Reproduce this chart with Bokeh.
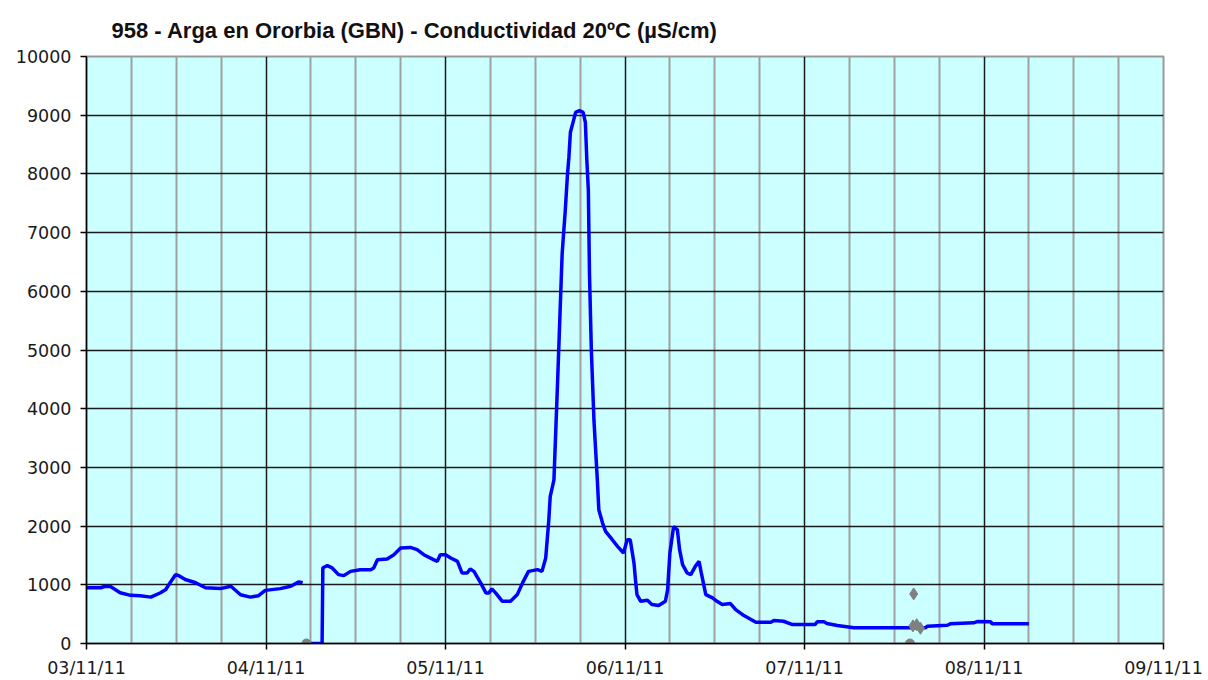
import pandas as pd
from bokeh.plotting import figure
from bokeh.models import FixedTicker, Range1d, DatetimeTickFormatter
from bokeh.embed import file_html
from bokeh.resources import INLINE

# ---------------- data (hours since 03/11/2011 00:00) ----------------
start_date = "2011-11-03 00:00"
title_text = "958 - Arga en Ororbia (GBN) - Conductividad 20ºC (µS/cm)"
day_labels = ["03/11/11", "04/11/11", "05/11/11", "06/11/11", "07/11/11", "08/11/11", "09/11/11"]
y_ticks = [0, 1000, 2000, 3000, 4000, 5000, 6000, 7000, 8000, 9000, 10000]

hours_a = [0.0, 1.9, 2.5, 3.2, 4.5, 5.9, 7.2, 8.6, 9.9, 10.6, 11.2, 11.9, 12.3, 13.2,
           14.6, 15.9, 17.9, 19.3, 20.6, 21.9, 23.0, 23.9, 25.9, 27.3, 28.4, 28.9]
cond_a = [950, 950, 975, 970, 865, 820, 815, 790, 865, 920, 1040, 1170, 1160, 1090,
          1035, 950, 935, 975, 830, 790, 815, 905, 935, 975, 1050, 1035]

hours_b = [30.0, 31.5, 31.6, 32.2, 32.85, 33.7, 34.4, 35.3, 36.6, 38.0,
           38.4, 38.9, 40.2, 41.1, 42.0, 43.3, 44.2, 45.1, 46.4, 46.9,
           47.3, 48.0, 48.7, 49.6, 50.2, 50.9, 51.3, 51.8, 52.7, 53.4,
           53.8, 54.2, 54.7, 55.6, 56.7, 57.6, 58.3, 59.1, 60.3, 60.9,
           61.4, 61.8, 62.0, 62.5, 63.0, 63.5, 63.6, 63.8, 64.0, 64.3,
           64.5, 64.7, 65.0, 65.4, 65.9, 66.4, 66.7, 66.9, 67.1, 67.25,
           67.5, 67.85, 68.3, 68.5, 69.0, 69.4, 70.3, 71.0, 71.8, 72.3,
           72.7, 73.2, 73.4, 73.6, 74.1, 75.0, 75.6, 76.5, 77.4, 77.7,
           78.0, 78.5, 79.0, 79.3, 79.7, 80.3, 80.8, 81.4, 81.9, 82.2,
           82.8, 83.7, 84.3, 85.0, 86.1, 86.8, 87.9, 89.5, 91.5, 91.9,
           93.2, 94.4, 97.4, 97.7, 98.6, 99.0, 100.4, 102.6, 107.1, 110.2,
           112.2, 112.4, 115.1, 115.5, 118.6, 119.1, 120.9, 121.1, 126.0]
cond_b = [0, 0, 1290, 1326, 1287, 1173, 1156, 1229, 1258, 1258,
          1287, 1428, 1440, 1513, 1627, 1637, 1598, 1513, 1428, 1399,
          1513, 1513, 1457, 1399, 1202, 1202, 1270, 1229, 1032, 862,
          862, 930, 862, 719, 719, 833, 1032, 1229, 1258, 1229,
          1457, 2079, 2504, 2788, 4500, 6302, 6642, 7009, 7349, 7973,
          8284, 8709, 8852, 9049, 9078, 9049, 8879, 8228, 7718, 6302,
          5000, 3800, 2788, 2278, 2052, 1909, 1768, 1654, 1542, 1768,
          1768, 1372, 1088, 833, 719, 736, 663, 646, 719, 918,
          1542, 1994, 1938, 1598, 1343, 1202, 1173, 1314, 1399, 1202,
          833, 777, 719, 663, 680, 578, 476, 362, 362, 391,
          379, 323, 323, 369, 369, 340, 306, 267, 267, 267,
          267, 294, 311, 335, 352, 374, 369, 335, 335]

gray_circle_hours = [29.4, 110.1]
gray_circle_vals = [0, 0]
gray_diamond_hours = [110.6, 110.5, 111.0, 111.5]
gray_diamond_vals = [845, 300, 320, 260]

# ---------------- helpers ----------------
t0 = pd.Timestamp(start_date)
def to_dt(hours):
    return [t0 + pd.Timedelta(hours=h) for h in hours]
def to_ms(hours):
    return [(t0 + pd.Timedelta(hours=h)).value // 10**6 for h in hours]

day_hours = [24 * i for i in range(len(day_labels))]
six_hours = [h for h in range(0, 24 * (len(day_labels) - 1) + 1, 6) if h % 24 != 0]

p = figure(width=1208, height=680, x_axis_type="datetime",
           x_range=Range1d(*to_dt([0, day_hours[-1]])), y_range=Range1d(0, 10000),
           output_backend="svg", toolbar_location=None,
           min_border_left=86, min_border_right=45, min_border_top=56, min_border_bottom=36)

p.background_fill_color = "#CCFFFF"
p.border_fill_color = "white"
p.outline_line_color = "#999999"
p.outline_line_width = 2

p.title.text = title_text
p.title.text_font = "'Liberation Sans', 'DejaVu Sans'"
p.title.text_font_size = "22px"
p.title.text_font_style = "bold"
p.title.text_color = "#111111"
p.title.align = "left"
p.title.offset = 25
p.title.standoff = 28

# axes
for ax in (p.xaxis[0], p.yaxis[0]):
    ax.axis_line_color = "black"
    ax.axis_line_width = 1.5
    ax.major_tick_line_color = "black"
    ax.major_tick_line_width = 1.5
    ax.major_tick_out = 6
    ax.major_tick_in = 0
    ax.minor_tick_line_color = None
    ax.major_label_text_font = "DejaVu Sans"
    ax.major_label_text_font_size = "17.5px"
    ax.major_label_text_color = "#1a1a1a"

p.yaxis.ticker = FixedTicker(ticks=y_ticks)
p.yaxis.major_label_standoff = 9
p.xaxis.ticker = FixedTicker(ticks=to_ms(day_hours))
p.xaxis.major_label_standoff = 8
fmt = "%d/%m/%y"
p.xaxis.formatter = DatetimeTickFormatter(days=fmt, months=fmt, years=fmt, hours=fmt,
                                          hourmin=fmt, minutes=fmt, minsec=fmt,
                                          seconds=fmt, milliseconds=fmt, microseconds=fmt)

# grids
p.ygrid.ticker = FixedTicker(ticks=y_ticks[1:-1])
p.ygrid.grid_line_color = "#1a1a1a"
p.ygrid.grid_line_width = 1.5
p.xgrid.ticker = FixedTicker(ticks=to_ms(day_hours[1:-1]), minor_ticks=to_ms(six_hours))
p.xgrid.grid_line_color = "#1a1a1a"
p.xgrid.grid_line_width = 1.5
p.xgrid.minor_grid_line_color = "#a0a0a0"
p.xgrid.minor_grid_line_width = 2

# series
p.line(to_dt(hours_a), cond_a, line_color="#0000FF", line_width=3.5)
p.line(to_dt(hours_b), cond_b, line_color="#0000FF", line_width=3.5)
p.scatter(to_dt(gray_circle_hours), gray_circle_vals, marker="circle", size=9,
          fill_color="#808080", line_color="#808080")
p.scatter(to_dt(gray_diamond_hours), gray_diamond_vals, marker="diamond", size=12,
          fill_color="#808080", line_color="#808080")

open("out.html", "w").write(file_html(p, INLINE))
